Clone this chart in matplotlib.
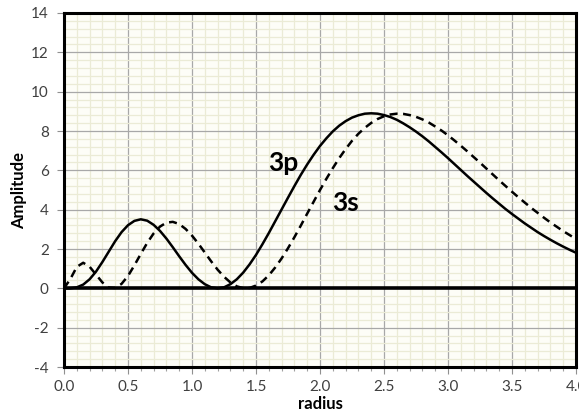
import matplotlib

matplotlib.use("Agg")
import matplotlib.pyplot as plt
from matplotlib.ticker import MultipleLocator, FormatStrFormatter

# radius values, step 0.05
radius = [i * 0.05 for i in range(81)]

# 3p radial curve (solid)
amp_3p = [
    0.00, 0.00, 0.05, 0.19, 0.46, 0.85, 1.34, 1.87, 2.40, 2.86,
    3.21, 3.43, 3.51, 3.44, 3.23, 2.92, 2.53, 2.09, 1.63, 1.19,
    0.79, 0.46, 0.21, 0.05, 0.00, 0.05, 0.21, 0.46, 0.80, 1.22,
    1.70, 2.24, 2.81, 3.41, 4.01, 4.61, 5.20, 5.77, 6.30, 6.79,
    7.24, 7.63, 7.98, 8.27, 8.50, 8.68, 8.80, 8.88, 8.90, 8.88,
    8.81, 8.71, 8.57, 8.39, 8.19, 7.97, 7.73, 7.47, 7.19, 6.91,
    6.62, 6.32, 6.02, 5.72, 5.43, 5.14, 4.85, 4.57, 4.30, 4.03,
    3.78, 3.54, 3.30, 3.08, 2.86, 2.66, 2.47, 2.29, 2.12, 1.96,
    1.81,
]

# 3s radial curve (dashed)
amp_3s = [
    0.00, 0.48, 1.09, 1.30, 1.10, 0.70, 0.30, 0.04, 0.02, 0.23,
    0.63, 1.17, 1.75, 2.31, 2.79, 3.14, 3.34, 3.38, 3.27, 3.02,
    2.68, 2.27, 1.82, 1.37, 0.95, 0.59, 0.30, 0.10, 0.01, 0.02,
    0.14, 0.35, 0.66, 1.06, 1.52, 2.04, 2.60, 3.19, 3.80, 4.40,
    5.00, 5.57, 6.11, 6.62, 7.08, 7.50, 7.86, 8.16, 8.41, 8.61,
    8.75, 8.84, 8.88, 8.87, 8.81, 8.72, 8.59, 8.43, 8.23, 8.02,
    7.78, 7.52, 7.25, 6.97, 6.68, 6.39, 6.09, 5.79, 5.49, 5.20,
    4.91, 4.63, 4.36, 4.09, 3.84, 3.59, 3.35, 3.13, 2.91, 2.71,
    2.51,
]

plt.rcParams["font.family"] = ["Lato", "DejaVu Sans"]
plt.rcParams["axes.unicode_minus"] = False

fig = plt.figure(figsize=(5.79, 4.15), dpi=100)
fig.patch.set_facecolor("white")
ax = fig.add_axes([64 / 579, 48 / 415, 512 / 579, 354 / 415])
ax.set_facecolor("#fdfdf7")

ax.set_xlim(0, 4)
ax.set_ylim(-4, 14)
ax.xaxis.set_major_locator(MultipleLocator(0.5))
ax.xaxis.set_minor_locator(MultipleLocator(0.1))
ax.yaxis.set_major_locator(MultipleLocator(2))
ax.yaxis.set_minor_locator(MultipleLocator(0.4))
ax.xaxis.set_major_formatter(FormatStrFormatter("%.1f"))

ax.grid(which="minor", color="#ebebd6", linewidth=0.9)
ax.grid(which="major", color="#a8a8a8", linewidth=0.9)
ax.set_axisbelow(True)

ax.axhline(0, color="black", linewidth=2.6, zorder=3)
ax.plot(radius, amp_3p, color="black", linewidth=1.8, zorder=4)
ax.plot(radius, amp_3s, color="black", linewidth=1.8, linestyle=(0, (3.2, 2.2)), zorder=4)

ax.text(1.71, 6.35, "3p", fontsize=19, fontweight="bold", ha="center", va="center")
ax.text(2.2, 4.35, "3s", fontsize=19, fontweight="bold", ha="center", va="center")

for side in ["left", "right", "top", "bottom"]:
    ax.spines[side].set_linewidth(2.2)
    ax.spines[side].set_color("black")

ax.tick_params(which="major", direction="out", length=5, width=0.8, color="#909090",
               labelsize=11, labelcolor="#404040")
ax.tick_params(axis="x", which="minor", direction="out", length=3, width=0.8, color="#a0a0a0")
ax.tick_params(axis="y", which="minor", length=0)
ax.tick_params(axis="x", pad=4)
ax.tick_params(axis="y", pad=6)

ax.set_xlabel("radius", fontsize=12, fontweight="bold", labelpad=2)
ax.set_ylabel("Amplitude", fontsize=12, fontweight="bold", labelpad=3)

fig.savefig("out.png", dpi=100)
